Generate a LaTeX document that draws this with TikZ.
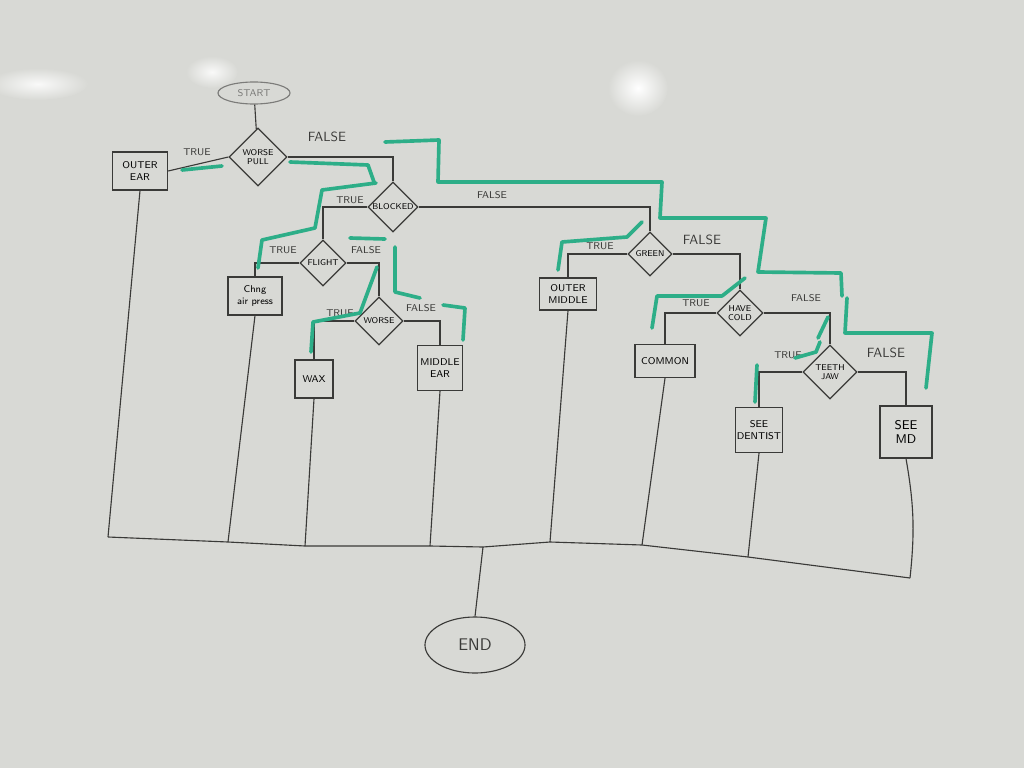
\documentclass[tikz,border=0pt]{standalone}
\usetikzlibrary{shapes.geometric}
\definecolor{boardc}{HTML}{D8D9D5}
\definecolor{inkc}{HTML}{3A3A38}
\definecolor{routec}{HTML}{2DAE88}
\definecolor{startc}{HTML}{7C7C7A}

\begin{document}
\begin{tikzpicture}[
    x=0.025cm,y=-0.025cm,
    font=\sffamily,
    decision/.style={diamond,draw=inkc,line width=0.9pt,inner sep=0pt,align=center,
      font=\sffamily\fontsize{6}{6.5}\selectfont},
    leaf/.style={rectangle,draw=inkc,line width=0.9pt,inner sep=1pt,align=center,
      font=\sffamily\fontsize{7}{8}\selectfont},
    term/.style={ellipse,draw=#1,text=#1,line width=0.8pt,inner sep=1pt},
    link/.style={draw=inkc,line width=0.8pt},
    route/.style={draw=routec,line width=2.6pt,line cap=round,line join=round},
    lbl/.style={font=\sffamily\fontsize{7}{8}\selectfont,text=inkc},
    biglbl/.style={font=\sffamily\fontsize{9.5}{10}\selectfont,text=inkc},
  ]

% ======================= board =======================
\fill[boardc] (0,0) rectangle (1024,768);
\useasboundingbox (0,0) rectangle (1024,768);
\shade[inner color=white,outer color=boardc] (638,88) ellipse (30 and 28);
\shade[inner color=white!85!boardc,outer color=boardc] (212,72) ellipse (26 and 16);
\shade[inner color=white!85!boardc,outer color=boardc] (38,84) ellipse (50 and 16);

% ======================= nodes =======================
\node[term=startc,minimum width=1.8cm,minimum height=0.55cm,font=\sffamily\fontsize{7}{8}\selectfont] (start) at (254,93) {START};
\node[decision,minimum size=1.45cm] (wpull) at (258,157) {WORSE\\PULL};
\node[leaf,minimum width=1.375cm,minimum height=0.95cm] (outer) at (140,171) {OUTER\\EAR};

\node[decision,minimum size=1.25cm] (blocked) at (393,207) {BLOCKED};
\node[decision,minimum size=1.15cm] (flight) at (323,263) {FLIGHT};
\node[leaf,minimum width=1.35cm,minimum height=0.95cm] (chng) at (255,296) {Chng\\air press};
\node[decision,minimum size=1.2cm] (worse) at (379,321) {WORSE};
\node[leaf,minimum width=0.95cm,minimum height=0.95cm] (wax) at (314,379) {WAX};
\node[leaf,minimum width=1.125cm,minimum height=1.125cm] (middle) at (440,368) {MIDDLE\\EAR};

\node[decision,minimum size=1.1cm] (green) at (650,254) {GREEN};
\node[leaf,minimum width=1.425cm,minimum height=0.8cm] (outermid) at (568,294) {OUTER\\MIDDLE};
\node[decision,minimum size=1.15cm] (cold) at (740,313) {HAVE\\COLD};
\node[leaf,minimum width=1.5cm,minimum height=0.825cm] (common) at (665,361) {COMMON};
\node[decision,minimum size=1.35cm] (teeth) at (830,372) {TEETH\\JAW};
\node[leaf,minimum width=0.95cm,minimum height=1.125cm] (dentist) at (759,430) {SEE\\DENTIST};
\node[leaf,minimum width=1.3cm,minimum height=1.3cm,font=\sffamily\fontsize{9}{10}\selectfont] (seemd) at (906,432) {SEE\\MD};

\node[term=inkc,minimum width=2.5cm,minimum height=1.4cm,font=\sffamily\fontsize{12}{13}\selectfont] (endn) at (475,645) {END};

% bus points along the bottom
\coordinate (b1) at (108,537);
\coordinate (b2) at (228,542);
\coordinate (b3) at (305,546);
\coordinate (b4) at (430,546);
\coordinate (bend) at (483,547);
\coordinate (b5) at (550,542);
\coordinate (b6) at (642,545);
\coordinate (b7) at (748,557);
\coordinate (b8) at (910,578);

% ======================= connectors =======================
\draw[link] (start) -- (wpull);
\draw[link] (wpull.west) -- (outer.east);
\draw[link] (wpull.east) -| (blocked.north);
\draw[link] (blocked.west) -| (flight.north);
\draw[link] (blocked.east) -| (green.north);
\draw[link] (flight.west) -| (chng.north);
\draw[link] (flight.east) -| (worse.north);
\draw[link] (worse.west) -| (wax.north);
\draw[link] (worse.east) -| (middle.north);
\draw[link] (green.west) -| (outermid.north);
\draw[link] (green.east) -| (cold.north);
\draw[link] (cold.west) -| (common.north);
\draw[link] (cold.east) -| (teeth.north);
\draw[link] (teeth.west) -| (dentist.north);
\draw[link] (teeth.east) -| (seemd.north);

% leaves down to the bus, bus to END
\draw[link] (outer.south) -- (b1);
\draw[link] (chng.south) -- (b2);
\draw[link] (wax.south) -- (b3);
\draw[link] (middle.south) -- (b4);
\draw[link] (outermid.south) -- (b5);
\draw[link] (common.south) -- (b6);
\draw[link] (dentist.south) -- (b7);
\draw[link] (seemd.south) to[bend left=8] (b8);
\draw[link] (b1) -- (b2) -- (b3) -- (b4) -- (bend) -- (b5) -- (b6) -- (b7) -- (b8);
\draw[link] (bend) -- (endn.north);

% ======================= branch labels =======================
\node[lbl] (t1) at (197,152) {TRUE};
\node[biglbl] (f1) at (327,137) {FALSE};
\node[lbl] (t2) at (350,200) {TRUE};
\node[lbl] (f2) at (492,195) {FALSE};
\node[lbl] (t3) at (283,250) {TRUE};
\node[lbl] (f3) at (366,250) {FALSE};
\node[lbl] (t4) at (340,313) {TRUE};
\node[lbl] (f4) at (421,308) {FALSE};
\node[lbl] (t5) at (600,246) {TRUE};
\node[biglbl] (f5) at (702,240) {FALSE};
\node[lbl] (t6) at (696,303) {TRUE};
\node[lbl] (f6) at (806,298) {FALSE};
\node[lbl] (t7) at (788,355) {TRUE};
\node[biglbl] (f7) at (886,353) {FALSE};

% ======================= green routes =======================
\draw[route] (182,170) -- (222,166);
\draw[route] (290,162) -- (368,165) -- (374,182);
\draw[route] (385,142) -- (439,140) -- (438,182) -- (662,182) -- (660,218)
  -- (766,218) -- (758,272) -- (841,273) -- (842,296);
\draw[route] (847,298) -- (845,333) -- (932,333) -- (926,388);
\draw[route] (376,183) -- (322,190) -- (315,228) -- (262,240) -- (258,268);
\draw[route] (350,238) -- (385,239);
\draw[route] (395,247) -- (395,292) -- (420,298);
\draw[route] (443,305) -- (465,308) -- (463,340);
\draw[route] (377,267) -- (360,313) -- (313,322) -- (311,352);
\draw[route] (642,222) -- (627,237) -- (562,242) -- (558,270);
\draw[route] (745,278) -- (722,296) -- (657,296) -- (652,328);
\draw[route] (828,317) -- (818,338);
\draw[route] (820,342) -- (816,352) -- (795,358);
\draw[route] (757,365) -- (755,402);

\end{tikzpicture}
\end{document}
